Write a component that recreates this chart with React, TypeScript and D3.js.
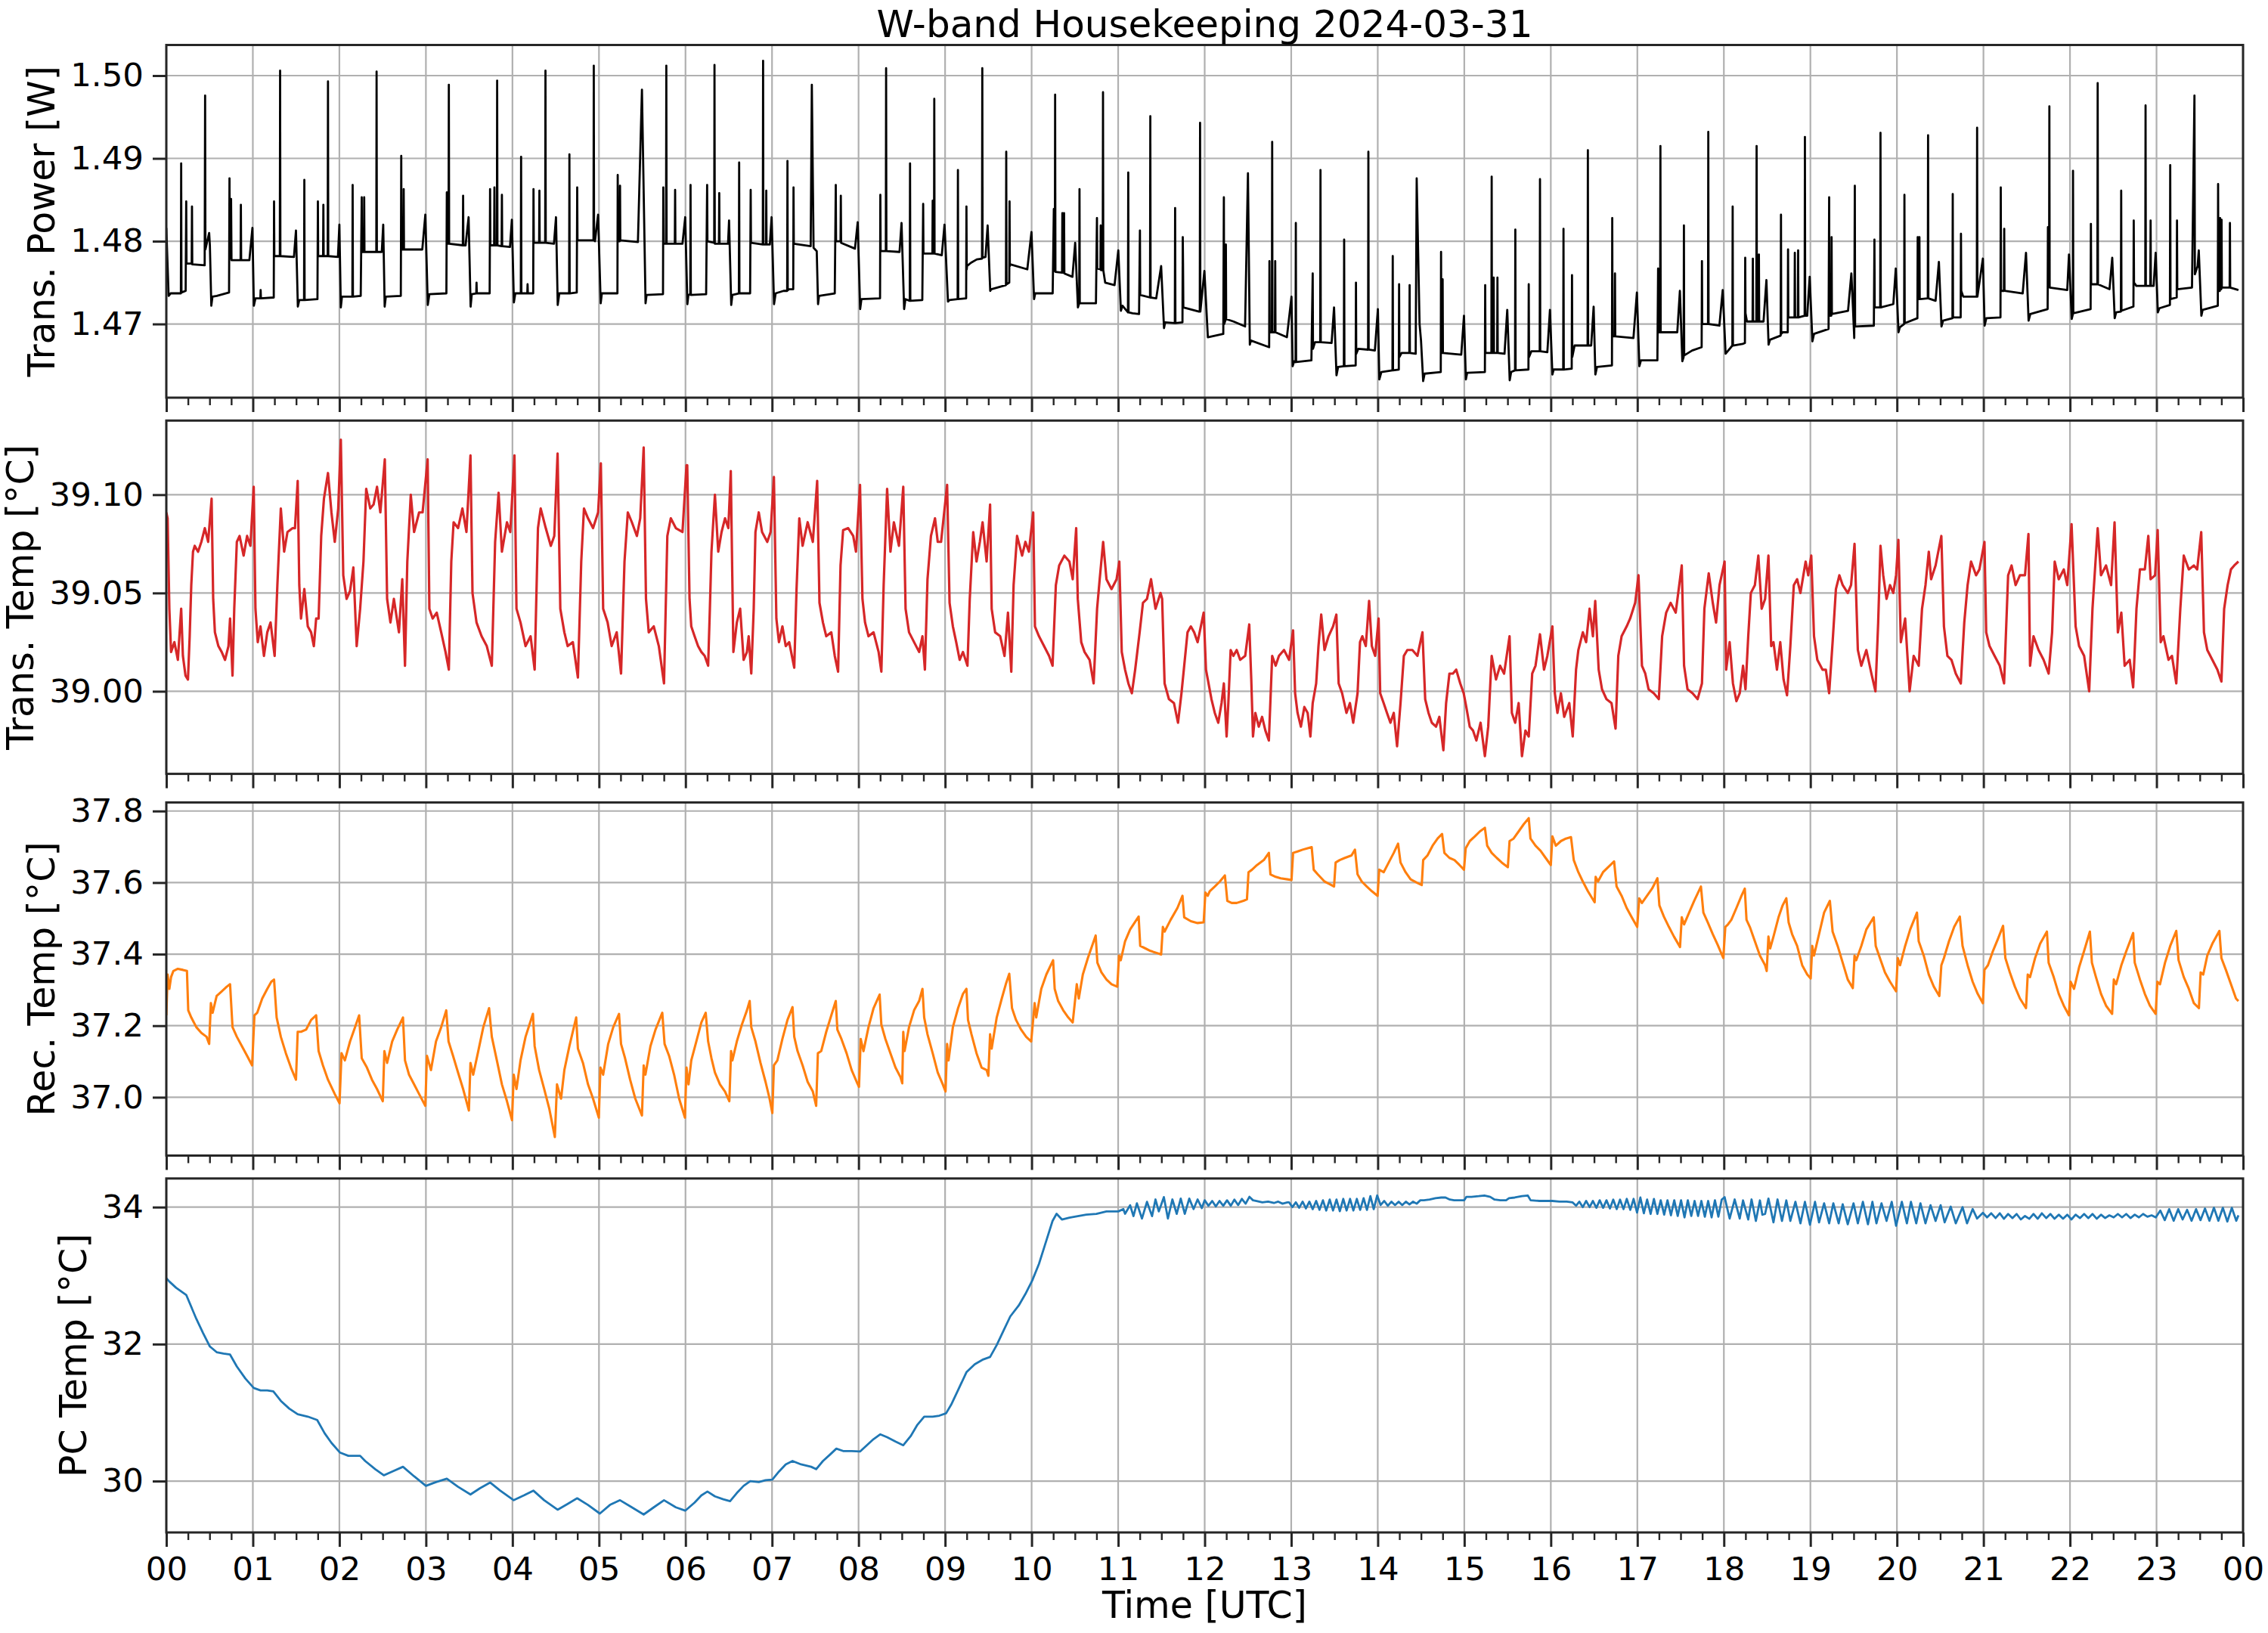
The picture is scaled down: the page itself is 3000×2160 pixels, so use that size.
import { useEffect, useRef } from "react";
import * as d3 from "d3";

type Pt = [number, number];

// x axis: minutes after 00:00 UTC
const hourLabels = [
  "00", "01", "02", "03", "04", "05", "06", "07", "08", "09", "10", "11",
  "12", "13", "14", "15", "16", "17", "18", "19", "20", "21", "22", "23", "00",
];

const powerTicks = [1.47, 1.48, 1.49, 1.5];
const transTempTicks = [39.0, 39.05, 39.1];
const recTempTicks = [37.0, 37.2, 37.4, 37.6, 37.8];
const pcTempTicks = [30, 32, 34];

// Trans. Power [W]
const transPower: Pt[] = [
  [0,1.4816],[1.6,1.4734],[3,1.4737],[10.1,1.4737],[10.3,1.4894],[10.5,1.4738],[13.4,1.474],[13.8,1.4848],[14,1.4773],[17.6,1.4773],[17.8,1.4842],[18,1.4772],[26.6,1.4771],[26.9,1.4976],[27.1,1.479],[29.7,1.481],[30.2,1.4795],[31.2,1.4722],[32,1.4733],
  [35,1.4734],[43.5,1.4738],[43.8,1.4876],[44.1,1.478],[44.7,1.4779],[44.9,1.4851],[45.2,1.4777],[51.5,1.4777],[51.7,1.4844],[51.9,1.4777],[57.6,1.4777],[59.7,1.4816],[60.7,1.4722],[61.8,1.4731],
  [65.2,1.4731],[65.4,1.4741],[65.6,1.4731],[74.5,1.4732],[74.7,1.4848],[74.9,1.4782],[78.7,1.4782],[78.9,1.5006],[79.1,1.4782],[88.5,1.4781],[89.9,1.4813],[91.2,1.4721],[92.2,1.4729],
  [95.5,1.4729],[95.7,1.4874],[95.9,1.4729],[104.8,1.473],[105.1,1.4848],[105.3,1.4782],[108.7,1.4782],[108.9,1.4844],[109.1,1.4782],[111.9,1.4782],[112.1,1.4993],[112.3,1.4782],[119,1.4781],[120,1.482],[121,1.472],[121.8,1.4733],
  [129,1.4733],[129.2,1.4868],[129.4,1.4733],[134.8,1.4734],[135.5,1.4853],[135.7,1.4787],[137,1.4787],[137.2,1.4853],[137.4,1.4787],[145.6,1.4787],[145.8,1.5005],[146,1.4787],[149.4,1.4787],[150.4,1.482],[151.4,1.4721],[152.2,1.4733],
  [162.6,1.4734],[162.9,1.4903],[163.1,1.479],[164.4,1.479],[164.6,1.4863],[164.8,1.479],[177.5,1.479],[179.6,1.4832],[181.3,1.4723],[182.4,1.4736],
  [194.2,1.4737],[194.5,1.4859],[194.7,1.4797],[195.7,1.4797],[195.9,1.4989],[196.1,1.4797],[205.6,1.4795],[205.8,1.4855],[206,1.4795],[207.5,1.4795],[209.6,1.4829],[211,1.4721],[211.8,1.4736],
  [214.9,1.4737],[215.1,1.475],[215.3,1.4737],[224.2,1.4737],[224.5,1.4863],[224.7,1.4795],[227.3,1.4795],[227.5,1.4865],[227.7,1.4795],[229.2,1.4795],[229.4,1.4994],[229.6,1.4795],[232.5,1.4794],[232.7,1.4856],[232.9,1.4794],[238.3,1.4793],[239.6,1.4826],[241,1.4726],[242,1.4737],
  [245.8,1.4737],[246,1.4902],[246.2,1.4737],[250.3,1.4737],[250.5,1.4748],[250.7,1.4737],[254.4,1.4737],[254.6,1.4863],[254.8,1.4798],[258.5,1.4798],[258.7,1.4861],[258.9,1.4798],[262.7,1.4798],[262.9,1.5006],[263.1,1.4798],[268.8,1.4797],[270.2,1.4829],[271.4,1.4723],[272.5,1.4737],
  [279.3,1.4737],[279.5,1.4905],[279.7,1.4737],[284.6,1.4738],[284.9,1.4865],[285.1,1.4801],[296.2,1.4801],[296.4,1.5012],[296.6,1.4801],[297.2,1.48],[299.4,1.4832],[301.2,1.4725],[302,1.4737],
  [312.8,1.4737],[313,1.488],[313.2,1.48],[314.4,1.48],[314.6,1.4867],[314.8,1.4801],[327,1.4799],[329.8,1.4983],[332.3,1.4725],[333,1.4735],
  [344.4,1.4736],[344.6,1.4865],[344.8,1.4797],[346.5,1.4797],[346.7,1.5012],[346.9,1.4797],[352.6,1.4797],[352.8,1.4862],[353,1.4797],[357.9,1.4797],
  [359.8,1.4829],[361.3,1.4724],[362,1.4735],[363.3,1.4736],[363.5,1.4868],[363.7,1.4735],[374.3,1.4736],[375,1.4868],[375.2,1.48],[379.9,1.4798],[380.1,1.5013],[380.3,1.4797],[383.2,1.4797],[383.4,1.4858],[383.6,1.4797],[389.5,1.4797],[390.2,1.4825],[391.7,1.4723],[392.5,1.4735],
  [397,1.4737],[397.2,1.4895],[397.4,1.4737],[404.8,1.4737],[405.2,1.4862],[405.4,1.4798],[413.6,1.4796],[413.8,1.5018],[414,1.4796],[415.8,1.4796],[416,1.4861],[416.2,1.4796],[418.5,1.4796],[419.7,1.4829],[421.4,1.4724],[422.5,1.4737],
  [428,1.474],[430.5,1.474],[430.7,1.4897],[430.9,1.4741],[432,1.4742],[434.7,1.4742],[434.9,1.4865],[435.1,1.4797],[446.8,1.4794],[447.6,1.4989],[448.8,1.4792],[451,1.4788],[451.9,1.4724],[452.6,1.4734],
  [463.5,1.4737],[464.2,1.4868],[464.4,1.48],[467.5,1.48],[467.7,1.4855],[467.9,1.4798],[477.5,1.4791],[479.4,1.4823],[481.1,1.4718],[482,1.473],
  [494.9,1.4731],[495.1,1.4856],[495.3,1.4788],[498.9,1.4788],[499.1,1.5009],[499.3,1.4788],[508.4,1.4787],[509.8,1.4822],[511.6,1.4718],[512.5,1.473],
  [515.5,1.4728],[515.7,1.4894],[515.9,1.4728],[524.2,1.4729],[524.8,1.4845],[525,1.4785],[531.2,1.4785],[531.4,1.4849],[531.6,1.4785],[532.3,1.4785],[532.5,1.4972],[532.7,1.4785],[537.7,1.4783],[539.6,1.482],[542,1.4727],[543,1.4729],
  [548.7,1.473],[548.9,1.4886],[549.1,1.473],[554.6,1.4731],[554.8,1.4842],[555,1.4766],[555.2,1.477],[558,1.4774],[562,1.4778],[565.6,1.4779],[565.8,1.5009],[566,1.478],[568,1.4781],[569.5,1.4819],[571.3,1.474],[572,1.4742],
  [582.2,1.4747],[582.4,1.4908],[582.6,1.4748],[584.5,1.475],[584.7,1.4848],[584.9,1.477],[585.2,1.4772],[597,1.4766],[599.9,1.4811],[601.7,1.473],[602.5,1.4737],
  [614.6,1.4737],[615.4,1.4839],[615.6,1.4764],[616.1,1.4764],[616.3,1.4977],[616.5,1.4763],[621.1,1.4762],[621.3,1.4834],[621.5,1.4762],[622.3,1.4762],[622.5,1.4834],[622.7,1.4761],[628.3,1.4757],[630.2,1.4798],[632.1,1.472],
  [633,1.4725],[633.2,1.4863],[633.4,1.4725],[644.6,1.4725],[645.3,1.4828],[645.5,1.4767],[647.7,1.4766],[647.9,1.4819],[648.1,1.4765],[649.3,1.4765],[649.5,1.498],[649.7,1.4765],[651,1.475],[657.5,1.4747],[660.1,1.4789],[661.9,1.4716],[663,1.4722],
  [666.8,1.4714],[667,1.4883],[667.2,1.4714],[670,1.4713],[674.5,1.4712],[675.1,1.4813],[675.3,1.4735],[682.1,1.4732],[682.3,1.4951],[682.5,1.4732],[686.4,1.4731],[689.8,1.477],[691.8,1.4695],[692.6,1.4702],
  [699.3,1.4701],[699.5,1.484],[699.7,1.4701],[704.6,1.4702],[704.8,1.4805],[705,1.4772],[705.2,1.472],[716,1.4715],[716.6,1.4715],[716.8,1.4943],[717,1.4715],[719.8,1.4764],
  [722.2,1.4684],[732.9,1.4688],[733.3,1.4853],[733.5,1.47],[734.5,1.4705],[734.7,1.4796],[734.9,1.4706],[740,1.4703],[748,1.4697],[750,1.4882],[751.3,1.4675],[752,1.468],
  [764.7,1.4672],[764.9,1.4776],[765.1,1.469],[766.6,1.469],[766.8,1.492],[767,1.469],[768.7,1.469],[768.9,1.4776],[769.1,1.469],[777,1.4684],[780.2,1.4733],[781,1.4649],[782,1.4655],
  [783,1.4654],[783.2,1.4822],[783.4,1.4654],[794,1.4656],[794.9,1.4761],[795.1,1.467],[796.5,1.4678],[800.1,1.4678],[800.3,1.4886],[800.5,1.4678],[808,1.4677],[809.7,1.472],[811.4,1.4638],[812.5,1.4648],
  [816.5,1.4649],[816.7,1.4802],[816.9,1.4649],[824.7,1.465],[824.9,1.475],[825.1,1.4664],[826.5,1.467],[833.3,1.4669],[833.5,1.4908],[833.7,1.4669],[838,1.4668],[840.1,1.4718],[841.1,1.4633],[842.5,1.4642],
  [850.2,1.4644],[850.4,1.4782],[850.6,1.4644],[854.6,1.4645],[854.8,1.4748],[855,1.466],[856.5,1.4665],[861.9,1.4665],[862.1,1.4747],[862.3,1.4665],[866.3,1.4664],[867,1.4876],[869,1.47],[870,1.468],[871.5,1.4631],[872.5,1.464],
  [883.7,1.4642],[883.9,1.4787],[884.1,1.4665],[884.8,1.4665],[885,1.4754],[885.2,1.4665],[897.9,1.4663],[899.8,1.471],[901.1,1.4633],[902,1.4641],
  [914.3,1.4642],[914.5,1.4747],[914.7,1.4665],[918.8,1.4665],[919,1.4878],[919.2,1.4665],[920.2,1.4665],[920.4,1.4756],[920.6,1.4665],[922.8,1.4665],[923,1.4756],[923.2,1.4665],[927.9,1.4664],[929.8,1.4717],[931.5,1.4632],[932.5,1.4642],
  [935.2,1.4644],[935.4,1.4814],[935.6,1.4644],[944.5,1.4645],[944.7,1.4748],[944.9,1.466],[946.5,1.4667],[952.3,1.4667],[952.5,1.4875],[952.7,1.4667],[957.6,1.4666],[959.4,1.4717],[961.1,1.4639],[962,1.4645],
  [968.6,1.4645],[968.8,1.4815],[969,1.4645],[974.5,1.4646],[974.7,1.4759],[974.9,1.466],[976.5,1.4674],[985.5,1.4674],[985.7,1.491],[985.9,1.4674],[988,1.4674],[989.7,1.4721],[990.9,1.4639],[992,1.4648],
  [1002.4,1.465],[1002.6,1.4828],[1002.8,1.4685],[1004.3,1.4685],[1004.5,1.4761],[1004.7,1.4685],[1017.3,1.4683],[1019.7,1.4738],[1021.4,1.4649],[1022.5,1.4656],
  [1033.9,1.4656],[1034.4,1.4767],[1034.6,1.469],[1035.8,1.469],[1036,1.4915],[1036.2,1.469],[1047.7,1.469],[1049.5,1.474],[1051.2,1.4655],[1052.1,1.466],[1052.3,1.4819],[1052.5,1.4662],
  [1058,1.4668],[1064.6,1.4672],[1064.8,1.4776],[1065,1.47],[1069,1.47],[1069.2,1.4932],[1069.4,1.47],[1076.9,1.4698],[1079.2,1.4741],
  [1081.2,1.4664],[1085.9,1.4674],[1086.1,1.4842],[1086.3,1.4674],[1093,1.4676],[1094.6,1.4677],[1094.8,1.478],[1095,1.4713],[1096,1.4703],[1099.9,1.4703],[1100.1,1.4779],[1100.3,1.4703],[1102.5,1.4703],[1102.7,1.4915],[1102.9,1.4703],[1104.1,1.4703],[1104.3,1.4784],[1104.5,1.4703],[1107.5,1.4703],[1109.5,1.4753],[1111,1.4675],[1112,1.4681],
  [1119.4,1.4686],[1119.6,1.4832],[1119.8,1.4688],[1120.8,1.469],[1124.3,1.469],[1124.5,1.479],[1124.7,1.4708],[1129,1.4708],[1129.2,1.4786],[1129.4,1.4708],[1131.3,1.4708],[1131.5,1.4789],[1131.7,1.4708],[1136,1.471],[1136.2,1.4926],[1136.4,1.471],[1137.8,1.471],[1139.5,1.4757],[1141.4,1.4679],[1142.5,1.4688],
  [1152.6,1.4694],[1153,1.4853],[1153.2,1.471],[1154.5,1.471],[1154.7,1.4805],[1154.9,1.4712],[1166.1,1.4716],[1168.4,1.4761],[1169.5,1.472],[1170.4,1.4683],[1170.8,1.4867],[1171,1.4697],
  [1184,1.4698],[1184.4,1.4802],[1184.6,1.472],[1188.4,1.472],[1188.6,1.4931],[1188.8,1.472],[1197.5,1.4724],[1199.2,1.4767],[1201.1,1.469],[1202,1.4696],
  [1205,1.47],[1205.2,1.4856],[1205.4,1.4701],[1214.2,1.4707],[1214.4,1.4805],[1214.6,1.473],[1215.4,1.473],[1215.6,1.4805],[1215.8,1.473],[1221.4,1.4731],[1221.6,1.4928],[1221.8,1.4731],[1226.8,1.4728],[1229.1,1.4775],[1230.9,1.4697],[1232,1.4704],
  [1238.5,1.4707],[1238.7,1.4857],[1238.9,1.4708],[1244.2,1.4708],[1244.4,1.4809],[1244.6,1.474],[1246,1.4733],[1255.4,1.4733],[1255.6,1.4937],[1255.8,1.4733],[1259.6,1.4779],[1260.8,1.4698],[1262,1.4707],
  [1271.8,1.4708],[1272,1.4865],[1272.2,1.474],[1274.2,1.474],[1274.4,1.4815],[1274.6,1.474],[1287.2,1.4737],[1289.5,1.4786],[1291.3,1.4704],[1292.5,1.4712],
  [1304.5,1.4718],[1304.7,1.4817],[1304.9,1.4745],[1305.5,1.4745],[1305.7,1.4963],[1305.9,1.4744],[1318.1,1.4741],[1319.3,1.4784],[1321.2,1.4706],[1322,1.4712],[1322.1,1.4885],[1322.3,1.4713],
  [1334.3,1.4718],[1334.5,1.4821],[1334.7,1.4748],[1339,1.4748],[1339.2,1.4991],[1339.4,1.4748],[1347.4,1.4742],[1349.3,1.478],[1351,1.4707],[1352,1.4714],
  [1355.3,1.4715],[1355.5,1.4861],[1355.7,1.4716],[1364,1.4721],[1364.2,1.4825],[1364.4,1.475],[1366,1.4746],[1372.2,1.4746],[1372.4,1.4964],[1372.6,1.4746],[1375.7,1.4746],[1375.9,1.4825],[1376.1,1.4746],[1378,1.4746],[1379.4,1.4786],[1380.9,1.4714],[1382,1.4719],
  [1389.3,1.4723],[1389.5,1.4892],[1389.7,1.473],[1394,1.4732],[1394.2,1.4825],[1394.4,1.4742],[1404.6,1.4744],[1406.3,1.4976],[1406.6,1.476],[1408.5,1.477],[1409.3,1.4789],[1411.1,1.471],[1412,1.4717],
  [1422.5,1.4722],[1422.7,1.4869],[1422.9,1.474],[1423.9,1.474],[1424.1,1.4828],[1424.3,1.4742],[1424.9,1.4742],[1425.1,1.4826],[1425.3,1.4744],[1430.7,1.4744],[1430.9,1.4822],[1431.1,1.4744],[1436.8,1.4741],
];

// Trans. Temp [°C]
const transTemp: Pt[] = [
  [0,39.091],[0.9,39.088],[2.1,39.042],[3.3,39.02],[5.6,39.025],[8,39.016],[10.3,39.042],[11.5,39.018],[13.3,39.008],[15,39.006],[16.2,39.028],[17.3,39.054],[18.5,39.071],[19.7,39.074],[22,39.071],[24.3,39.076],[26.7,39.083],[29,39.076],[31.4,39.098],
  [32.5,39.047],[33.7,39.03],[36.1,39.023],[38.4,39.02],[40.7,39.016],[43.1,39.023],[44.2,39.037],[45.9,39.008],[47.1,39.042],[48.9,39.076],[50.8,39.079],[53.6,39.069],[56,39.079],[58.3,39.074],[60.6,39.104],
  [61.8,39.042],[63.4,39.025],[65.3,39.033],[67.7,39.018],[70,39.03],[72.3,39.035],[75.1,39.018],[77,39.054],[79.4,39.093],[81.7,39.071],[84,39.081],[87.6,39.083],[89.2,39.083],[91.1,39.107],
  [92.2,39.054],[93.4,39.037],[95.7,39.052],[98.1,39.033],[100.4,39.03],[102.3,39.023],[103.9,39.037],[105.6,39.037],[107.4,39.079],[109.3,39.098],[112.1,39.111],[114.5,39.091],[116.8,39.076],[119.2,39.093],[121,39.128],
  [122.7,39.059],[125,39.047],[127.4,39.051],[129.7,39.063],[132,39.023],[134.4,39.042],[136.7,39.066],[138.6,39.103],[141.4,39.093],[143.7,39.095],[146.1,39.104],[148.4,39.091],[151.5,39.118],
  [153.1,39.047],[155.4,39.035],[157.8,39.047],[161.3,39.03],[163.6,39.057],[165.5,39.013],[167.1,39.066],[169.5,39.1],[171.8,39.081],[175.3,39.091],[177.7,39.091],[181.2,39.118],
  [182.4,39.042],[184.7,39.037],[187.5,39.04],[190.6,39.03],[193.6,39.02],[195.9,39.011],[197.6,39.066],[199.2,39.086],[202.3,39.083],[205.3,39.093],[208.1,39.081],[210.9,39.12],
  [212.3,39.05],[215.1,39.035],[218.6,39.028],[222.2,39.023],[225.7,39.013],[228,39.076],[230.4,39.101],[232.7,39.071],[236.2,39.086],[238.5,39.081],[241.4,39.12],
  [242.8,39.042],[245.6,39.035],[249.1,39.023],[252.6,39.028],[255.4,39.011],[257.7,39.083],[259.6,39.093],[263.1,39.083],[266.6,39.074],[269,39.079],[271.3,39.121],
  [273.2,39.042],[276,39.03],[278.3,39.023],[281.9,39.025],[285.4,39.007],[287.7,39.066],[289.6,39.093],[292.4,39.088],[295.9,39.083],[299.4,39.091],[301.3,39.116],
  [302.9,39.042],[306,39.035],[308.8,39.023],[312.3,39.03],[315.3,39.009],[317.7,39.066],[320,39.091],[322.8,39.086],[326.3,39.079],[328.6,39.088],[331,39.124],
  [332.6,39.047],[334.5,39.03],[338,39.033],[341.5,39.023],[345.1,39.004],[347.4,39.079],[349.8,39.088],[353.3,39.083],[357.9,39.081],[360.7,39.115],
  [361.2,39.115],[362.8,39.047],[364,39.033],[366.3,39.028],[368.7,39.023],[371,39.02],[373.3,39.018],[375.7,39.013],[376.9,39.042],[378,39.071],[380.4,39.1],[382.7,39.071],[385,39.081],[387.4,39.088],[389.7,39.083],[391.4,39.112],
  [393.2,39.02],[395.6,39.035],[397.9,39.042],[400.3,39.016],[402.6,39.02],[403.8,39.028],[405.6,39.009],[407.3,39.042],[408.5,39.081],[410.8,39.091],[413.1,39.081],[416.7,39.076],[419,39.081],[421.3,39.109],
  [423,39.037],[424.8,39.025],[427.2,39.033],[429.5,39.023],[431.9,39.025],[435.4,39.012],[437,39.052],[438.9,39.088],[441.2,39.074],[444.7,39.086],[448.3,39.076],[451.3,39.107],
  [452.9,39.045],[455.3,39.035],[457.6,39.028],[461.1,39.03],[463.5,39.018],[465.8,39.01],[467.5,39.064],[469.3,39.082],[472.8,39.083],[476.3,39.079],[478.2,39.071],[481,39.105],
  [482.7,39.047],[484.5,39.035],[486.9,39.028],[490.4,39.03],[493.9,39.02],[495.8,39.01],[497.4,39.054],[499.8,39.103],[502.1,39.071],[504.5,39.086],[508,39.074],[511,39.104],
  [512.6,39.042],[515,39.03],[518.5,39.025],[522,39.02],[524.3,39.028],[526,39.011],[527.8,39.057],[530.2,39.079],[533,39.088],[534.9,39.076],[537.2,39.076],[541.4,39.105],
  [543.1,39.045],[545.4,39.033],[547.7,39.025],[550.1,39.016],[552.4,39.02],[555.5,39.013],[557.1,39.047],[559.5,39.081],[561.8,39.066],[564.1,39.076],[566,39.086],[568.8,39.066],[571.2,39.095],
  [572.3,39.042],[574.7,39.03],[578.2,39.028],[581.2,39.018],[583.6,39.04],[585.9,39.01],[587.5,39.054],[589.9,39.079],[593.4,39.069],[595.7,39.076],[598.1,39.071],[601.1,39.091],
  [602.3,39.033],[605.1,39.028],[608.6,39.023],[612.1,39.018],[614.5,39.013],[616.8,39.054],[619.1,39.064],[622.7,39.069],[626.2,39.066],[628.5,39.057],[630.9,39.083],
  [632,39.047],[634.4,39.025],[636.7,39.02],[640.2,39.016],[643,39.004],[645.4,39.042],[647.2,39.057],[649.6,39.076],[651.9,39.057],[655.4,39.052],[658.9,39.057],[660.8,39.066],
  [662.5,39.02],[664.8,39.011],[667.1,39.004],[669.5,38.999],[671.8,39.011],[674.9,39.03],[677.2,39.045],[680,39.047],[682.8,39.057],[685.9,39.042],[689.4,39.05],[690.5,39.047],
  [692.2,39.004],[695.2,38.996],[698.7,38.994],[701.5,38.984],[703.9,38.999],[705.8,39.013],[708.1,39.03],[710.4,39.033],[712.7,39.03],[715.1,39.025],[719.3,39.04],[720.9,39.011],
  [724.7,38.996],[727,38.989],[729.4,38.984],[731.7,38.994],[733.3,39.004],[735.2,38.977],[736.4,38.994],[738,39.021],[739.9,39.018],[742.2,39.021],[744.6,39.016],[748.1,39.018],[750.9,39.034],
  [752.3,39.006],[753.5,38.977],[755.1,38.989],[757.5,38.982],[759.8,38.987],[762.1,38.98],[764.5,38.975],[766.8,39.018],[769.2,39.013],[771.5,39.018],[775,39.021],[778.5,39.016],[781.3,39.031],
  [782.7,38.999],[784.4,38.989],[786.7,38.982],[789.1,38.992],[791.4,38.989],[793.3,38.977],[794.9,38.994],[797.3,39.004],[798.9,39.023],[800.8,39.039],[803.1,39.021],[805.9,39.028],[809,39.033],[811.3,39.039],
  [812.9,39.004],[815.3,38.999],[818.3,38.989],[820.7,38.994],[823,38.984],[826,38.999],[827.7,39.025],[829.3,39.028],[831.7,39.023],[834,39.046],[835.9,39.023],[838.2,39.018],[840.6,39.037],
  [841.7,38.999],[844.1,38.994],[846.4,38.989],[848.8,38.984],[851.1,38.989],[853.4,38.972],[855.8,38.994],[858.1,39.018],[860.5,39.021],[864,39.021],[867.5,39.018],[871,39.03],
  [872.9,38.996],[875.2,38.989],[877.5,38.984],[880.4,38.982],[882.7,38.987],[885.5,38.97],[887.4,38.994],[889.7,39.009],[892.1,39.009],[894.4,39.011],[897.2,39.004],[899.6,38.999],
  [901.4,38.992],[903.8,38.982],[906.1,38.98],[908.4,38.975],[911.3,38.984],[914.3,38.967],[916.6,38.982],[919,39.018],[922,39.006],[924.8,39.013],[927.6,39.009],[931.4,39.028],
  [933,38.989],[935.3,38.984],[937.7,38.994],[940,38.967],[942.4,38.98],[944.7,38.977],[947.1,39.009],[949.4,39.013],[952.5,39.029],[955.3,39.011],[957.6,39.018],[961.1,39.033],
  [962.8,38.999],[964.6,38.989],[967,38.999],[969.3,38.987],[972.8,38.994],[975.2,38.977],[977.5,39.011],[979.1,39.021],[982.2,39.03],[984.5,39.025],[986.9,39.042],[989.2,39.028],[990.8,39.046],
  [993.2,39.011],[995.5,39.001],[998.6,38.996],[1002.1,38.994],[1004.9,38.981],[1006.8,39.018],[1009.1,39.028],[1012.6,39.033],[1015,39.037],[1018.5,39.045],[1020.8,39.059],
  [1023.2,39.013],[1025.5,39.009],[1027.8,39.001],[1031.4,38.999],[1034.9,38.996],[1037.2,39.028],[1040,39.04],[1043.1,39.045],[1046.6,39.04],[1050.8,39.064],
  [1052.4,39.013],[1054.8,39.001],[1058.3,38.999],[1061.8,38.996],[1064.8,39.004],[1066.5,39.042],[1069.5,39.06],[1072.3,39.045],[1074.6,39.035],[1077,39.054],[1080.5,39.066],
  [1081.6,39.011],[1084,39.025],[1086.3,39.004],[1088.7,38.995],[1091,38.999],[1093.3,39.013],[1095,39.001],[1096.9,39.028],[1098.7,39.05],[1101.5,39.054],[1103.9,39.069],[1106.2,39.042],[1108.6,39.047],[1110.9,39.069],
  [1112.8,39.023],[1114.4,39.025],[1116.8,39.011],[1119.1,39.025],[1121.4,39.006],[1123.8,38.998],[1126.1,39.023],[1128.5,39.054],[1130.8,39.057],[1133.1,39.05],[1136.7,39.066],[1138.5,39.059],[1140.6,39.069],
  [1142.5,39.028],[1144.8,39.016],[1148.4,39.011],[1150.7,39.011],[1153,38.999],[1155.4,39.025],[1157.7,39.052],[1160.1,39.059],[1162.4,39.054],[1165.9,39.05],[1168.2,39.054],[1170.6,39.075],
  [1172.9,39.021],[1175.3,39.013],[1178.8,39.021],[1182.3,39.009],[1185.1,39],[1187,39.035],[1188.6,39.074],[1190.5,39.059],[1192.8,39.047],[1195.2,39.054],[1197.5,39.05],[1199.4,39.059],[1201,39.077],
  [1202.7,39.025],[1205.7,39.037],[1208.8,39],[1211.6,39.018],[1215.1,39.013],[1217.4,39.042],[1219.8,39.054],[1222.1,39.071],[1223.7,39.057],[1226.8,39.064],[1230.8,39.079],
  [1232.6,39.033],[1235,39.018],[1237.8,39.016],[1240.8,39.009],[1244.3,39.004],[1246.7,39.035],[1249,39.054],[1251.4,39.066],[1254.9,39.059],[1257.2,39.062],[1260.7,39.076],
  [1261.9,39.03],[1264.2,39.023],[1267.7,39.018],[1271.3,39.013],[1274.3,39.004],[1277.1,39.059],[1279.5,39.064],[1282.3,39.054],[1285.3,39.059],[1288.8,39.059],[1291.2,39.08],
  [1292.3,39.013],[1294.7,39.028],[1298.2,39.021],[1301.7,39.016],[1305.2,39.009],[1307.6,39.03],[1309.4,39.066],[1312.2,39.057],[1315.7,39.062],[1318.1,39.054],[1321.1,39.085],
  [1323.9,39.033],[1326.3,39.023],[1329.8,39.018],[1333.3,39],[1335.6,39.042],[1339.2,39.083],[1341.5,39.059],[1345,39.064],[1348.5,39.054],[1350.9,39.086],
  [1353.2,39.03],[1355.6,39.04],[1357.9,39.013],[1361.4,39.016],[1363.8,39.002],[1366.1,39.042],[1368.5,39.062],[1371.9,39.062],[1374.3,39.079],[1375.9,39.057],[1379,39.059],[1380.8,39.082],
  [1382.9,39.025],[1384.8,39.028],[1388.3,39.016],[1390.7,39.018],[1393.7,39.004],[1396.5,39.042],[1398.9,39.069],[1402.4,39.062],[1405.9,39.064],[1408.2,39.062],[1411,39.081],
  [1412.9,39.03],[1415.2,39.021],[1418.7,39.016],[1422.2,39.011],[1425,39.005],[1426.9,39.042],[1429.3,39.054],[1431.6,39.062],[1433.9,39.064],[1436.8,39.066],
];

// Rec. Temp [°C]
const recTemp: Pt[] = [
  [0,37.229],[0.9,37.343],[2.1,37.303],[3.3,37.336],[4.9,37.353],[8,37.359],[11.5,37.356],[14.3,37.353],[15.2,37.243],[17.3,37.223],[20.8,37.196],[24.3,37.18],[27.9,37.169],[29.7,37.149],
  [30.9,37.263],[32.1,37.236],[34.9,37.283],[38.4,37.296],[41.9,37.309],[44.2,37.316],[45.9,37.196],[48.9,37.169],[52.4,37.143],[56,37.116],[59.5,37.089],
  [61.1,37.229],[63,37.236],[66.5,37.276],[70,37.303],[72.8,37.323],[74.7,37.329],[76.5,37.223],[79.4,37.169],[82.9,37.123],[86.4,37.083],[89.9,37.049],
  [91.1,37.183],[93.4,37.183],[96.9,37.189],[100.4,37.216],[103.9,37.229],[105.6,37.129],[108.6,37.089],[112.1,37.049],[116.8,37.009],[120.1,36.983],
  [121.5,37.123],[123.8,37.103],[127.4,37.156],[130.9,37.196],[133.7,37.229],[135.5,37.109],[139.1,37.083],[142.6,37.049],[146.1,37.023],[150.1,36.989],
  [151.2,37.129],[153.1,37.096],[156.6,37.156],[160.1,37.189],[164.1,37.223],[165.5,37.103],[168.3,37.063],[171.8,37.036],[175.3,37.009],[179.6,36.976],
  [180.7,37.116],[183.5,37.076],[187,37.156],[190.6,37.196],[194.1,37.243],[195.7,37.156],[198.8,37.116],[202.3,37.069],[205.8,37.023],[209.8,36.963],
  [210.9,37.096],[212.8,37.063],[216.3,37.129],[219.8,37.196],[223.8,37.249],[225.7,37.169],[229.2,37.103],[232.7,37.036],[236.2,36.989],[239.7,36.936],
  [240.9,37.063],[242.8,37.023],[245.6,37.103],[249.1,37.169],[254.2,37.233],[255.4,37.143],[258.5,37.076],[262,37.023],[265.5,36.969],[269.4,36.889],
  [270.9,37.036],[273.7,36.996],[276,37.076],[279.5,37.143],[284.2,37.223],[285.4,37.136],[288.9,37.096],[292.4,37.036],[295.9,36.996],[299.9,36.943],
  [301,37.083],[302.9,37.063],[306.4,37.149],[309.9,37.196],[313.9,37.233],[315.3,37.149],[318.1,37.109],[321.6,37.049],[325.2,36.996],[329.8,36.949],
  [331,37.089],[332.2,37.063],[335.7,37.143],[339.2,37.189],[343.9,37.236],[345.5,37.149],[348.6,37.116],[352.1,37.063],[355.6,36.996],[359.6,36.943],
  [360.7,37.083],[362.1,37.036],[364,37.103],[367.5,37.156],[371,37.209],[374,37.236],[375.7,37.156],[378,37.109],[380.4,37.069],[383.9,37.036],[387.4,37.016],[390.4,36.989],
  [391.6,37.129],[392.5,37.103],[395.6,37.156],[399.1,37.203],[402.6,37.243],[404.5,37.269],[405.6,37.196],[408.5,37.156],[412,37.096],[415.5,37.043],[418.3,36.996],[420.2,36.956],
  [421.3,37.089],[423.7,37.103],[427.2,37.163],[430.7,37.216],[434.2,37.252],[435.4,37.169],[437.7,37.129],[441.2,37.089],[444.7,37.043],[448.3,37.016],[450.6,36.976],
  [451.8,37.123],[454.1,37.129],[457.6,37.183],[461.1,37.229],[464.2,37.269],[465.3,37.189],[468.1,37.163],[471.7,37.123],[475.2,37.076],[478.7,37.043],[480.3,37.029],
  [481.5,37.163],[483.4,37.129],[486.9,37.196],[490.4,37.249],[494.6,37.287],[495.8,37.203],[498.6,37.163],[502.1,37.123],[505.6,37.083],[509.1,37.056],[510.3,37.039],
  [511,37.183],[511.9,37.129],[515,37.196],[518.5,37.243],[522,37.269],[524.3,37.303],[525.5,37.223],[527.8,37.176],[531.4,37.123],[534.9,37.069],[538.4,37.036],[540.3,37.016],
  [541.4,37.149],[542.4,37.103],[545.4,37.196],[549,37.249],[552.4,37.289],[554.8,37.303],[555.9,37.216],[558.3,37.176],[561.8,37.123],[565.3,37.083],[568.8,37.076],[570,37.06],
  [571.2,37.176],[572.3,37.136],[575.8,37.223],[579.3,37.276],[582.1,37.316],[584.5,37.345],[586.4,37.249],[589.2,37.216],[592.7,37.189],[596.2,37.169],[599.7,37.156],
  [602.1,37.263],[603.2,37.223],[606.7,37.303],[610.2,37.343],[614.9,37.383],[616,37.303],[618.4,37.269],[621.9,37.243],[625.4,37.223],[628.5,37.209],
  [631.3,37.316],[632.7,37.276],[635.5,37.343],[639,37.389],[644.4,37.452],[645.6,37.376],[648.4,37.349],[651.9,37.329],[655.4,37.316],[659.4,37.309],
  [660.6,37.396],[661.8,37.383],[664.8,37.436],[668.3,37.469],[674.2,37.505],[675.3,37.423],[678.9,37.416],[682.4,37.409],[687,37.403],[689.8,37.399],
  [691,37.476],[692.2,37.463],[696.4,37.496],[701.1,37.529],[704.6,37.563],[705.8,37.503],[710.4,37.492],[715.1,37.487],[719.3,37.489],
  [720.5,37.572],[722.1,37.563],[723.5,37.576],[727,37.589],[730.5,37.603],[734,37.62],[735.7,37.549],[738.7,37.543],[742.2,37.543],[746.9,37.549],[749.3,37.553],
  [750.4,37.629],[752.8,37.636],[756.3,37.649],[761,37.663],[764.5,37.683],[765.6,37.623],[769.2,37.616],[772.7,37.612],[777.4,37.609],[780.2,37.607],
  [781.3,37.683],[784.4,37.687],[787.9,37.692],[791.4,37.696],[794.2,37.699],[795.6,37.636],[798.4,37.623],[803.1,37.603],[806.6,37.596],[809.7,37.589],
  [810.8,37.656],[813.6,37.663],[817.2,37.669],[821.8,37.676],[824.2,37.692],[826,37.623],[828.9,37.603],[832.4,37.589],[835.9,37.576],[839.9,37.563],
  [841,37.636],[844.1,37.629],[847.6,37.656],[851.1,37.683],[854.1,37.709],[855.8,37.656],[859.3,37.629],[862.8,37.609],[867.5,37.599],[870.5,37.593],
  [871.5,37.663],[874.5,37.676],[878,37.703],[881.5,37.723],[884.6,37.736],[886.2,37.683],[889.7,37.669],[893.2,37.663],[896.7,37.649],[899.8,37.636],
  [901,37.696],[903.8,37.716],[907.3,37.729],[910.8,37.743],[914.3,37.753],[915.9,37.703],[919,37.683],[922.5,37.669],[926,37.656],[930.2,37.643],
  [931.4,37.716],[934.2,37.723],[937.7,37.743],[941.2,37.763],[944.7,37.78],[945.9,37.723],[949.4,37.703],[952.9,37.689],[956.4,37.669],[960,37.649],
  [961.1,37.729],[963.5,37.703],[967,37.716],[970.5,37.723],[974,37.727],[975.9,37.663],[979.1,37.629],[982.2,37.603],[985.7,37.576],[990.4,37.545],
  [991.1,37.616],[992.7,37.603],[996.2,37.629],[999.7,37.643],[1003.9,37.659],[1005.6,37.589],[1009.1,37.563],[1012.6,37.529],[1016.1,37.503],[1019.9,37.476],
  [1021.3,37.556],[1023.2,37.543],[1026.7,37.563],[1030.2,37.583],[1033.9,37.612],[1035.3,37.536],[1038.4,37.505],[1041.9,37.476],[1045.4,37.449],[1049.6,37.42],
  [1050.8,37.503],[1052.4,37.483],[1055.9,37.516],[1059.4,37.549],[1064.1,37.589],[1065.8,37.516],[1068.8,37.489],[1072.3,37.456],[1075.8,37.425],[1079.6,37.389],
  [1081,37.476],[1082.8,37.483],[1085.2,37.496],[1088.7,37.529],[1092.2,37.563],[1094.5,37.583],[1095.7,37.496],[1098,37.476],[1101.5,37.436],[1105,37.396],[1108.6,37.369],[1109.7,37.353],
  [1110.9,37.449],[1112.1,37.416],[1114.4,37.449],[1117.9,37.503],[1120.7,37.536],[1123.3,37.556],[1124.9,37.489],[1127.3,37.456],[1130.8,37.423],[1134.3,37.369],[1137.8,37.343],[1140.2,37.332],
  [1141.3,37.423],[1142.5,37.396],[1146,37.456],[1149.5,37.516],[1153.5,37.549],[1155.4,37.463],[1158.9,37.423],[1162.4,37.376],[1165.9,37.329],[1169.4,37.305],
  [1170.6,37.396],[1171.8,37.383],[1175.3,37.423],[1178.8,37.469],[1183.9,37.503],[1185.3,37.423],[1188.2,37.389],[1191.7,37.349],[1195.2,37.323],[1199.4,37.296],
  [1200.6,37.389],[1202.2,37.369],[1205.7,37.423],[1209.2,37.469],[1213.9,37.516],[1215.1,37.436],[1218.6,37.396],[1222.1,37.343],[1225.6,37.309],[1229.4,37.283],
  [1230.8,37.369],[1232.6,37.389],[1236.1,37.436],[1239.7,37.476],[1243.6,37.505],[1245.5,37.423],[1249,37.369],[1252.5,37.323],[1256,37.289],[1259.6,37.263],
  [1260.7,37.356],[1263.1,37.369],[1266.6,37.409],[1270.1,37.443],[1273.6,37.479],[1275.2,37.389],[1278.3,37.349],[1281.8,37.309],[1285.3,37.276],[1289.5,37.249],
  [1290.7,37.343],[1292.3,37.336],[1295.8,37.389],[1299.3,37.429],[1304,37.463],[1305.2,37.376],[1308.7,37.336],[1312.2,37.289],[1315.7,37.256],[1319.3,37.229],
  [1320.4,37.323],[1322.8,37.303],[1326.3,37.363],[1329.8,37.409],[1333.8,37.463],[1335.2,37.376],[1338,37.336],[1341.5,37.289],[1345,37.256],[1349.2,37.233],
  [1350.4,37.329],[1352,37.316],[1355.6,37.369],[1359.1,37.409],[1363.8,37.459],[1364.9,37.376],[1368.5,37.329],[1371.9,37.289],[1375.4,37.256],[1379.4,37.233],
  [1380.6,37.323],[1382.4,37.316],[1385.9,37.376],[1389.5,37.423],[1393.7,37.465],[1395.3,37.383],[1398.9,37.336],[1402.4,37.303],[1405.9,37.263],[1409.4,37.249],
  [1410.6,37.349],[1412.4,37.343],[1415.2,37.396],[1418.7,37.429],[1423.6,37.465],[1425,37.389],[1428.1,37.356],[1431.6,37.316],[1435.1,37.276],[1436.8,37.269],
];

// PC Temp [°C]
const pcTemp: Pt[] = [
  [0,32.962],[2.1,32.913],[6.8,32.822],[13.8,32.718],[20.8,32.369],[25.5,32.16],[30.2,31.965],[34.9,31.882],[39.6,31.861],[44.2,31.847],[48.9,31.673],[54.8,31.498],[60.6,31.359],[65.3,31.324],[70,31.324],[74.2,31.31],
  [79.4,31.171],[85.2,31.059],[91.1,30.976],[98.1,30.941],[104.6,30.892],[109.8,30.697],[114.5,30.558],[120.3,30.418],[126.2,30.369],[134.4,30.369],[137.9,30.293],[144.9,30.174],[150.8,30.084],[156.6,30.139],[164.1,30.209],
  [171.8,30.07],[180,29.93],[187,29.986],[194.5,30.035],[202.3,29.916],[210.9,29.805],[217.5,29.896],[224.5,29.979],[231.5,29.861],[240.9,29.721],[247.9,29.791],[254.5,29.861],[262,29.721],[271.3,29.582],[278.3,29.666],
  [284.9,29.749],[292.4,29.652],[300.6,29.526],[307.6,29.652],[314.6,29.721],[322.8,29.617],[331,29.512],[338,29.617],[345.1,29.721],[353.3,29.617],[359.8,29.568],
  [366.3,29.686],[371,29.791],[375.2,29.847],[380.4,29.777],[386.2,29.735],[390.9,29.707],[395.6,29.826],[400.3,29.93],[404.9,30],[410.8,29.986],[415.5,30.014],[420.2,30.021],[424.8,30.139],[429.5,30.244],[434.2,30.293],
  [440.1,30.244],[447.1,30.209],[450.6,30.174],[455.3,30.293],[460,30.383],[464.6,30.474],[469.3,30.439],[475.2,30.439],[481,30.432],[485.7,30.523],[490.4,30.613],[495.1,30.683],[499.8,30.641],[505.6,30.578],[511,30.523],
  [516.1,30.655],[520.8,30.822],[525.5,30.941],[531.4,30.941],[536,30.955],[540.7,30.99],[544.2,31.115],[548.9,31.324],[554.8,31.589],[560.6,31.707],[566.5,31.777],[571.2,31.812],[575.8,31.986],[580.5,32.195],[585.2,32.404],
  [591.1,32.565],[595.7,32.732],[600.4,32.927],[605.1,33.171],[609.8,33.484],[614.5,33.798],[617.3,33.902],[621,33.819],[626.2,33.847],[632,33.868],[637.9,33.889],[644.9,33.902],[651.9,33.937],[660.1,33.937],
  [663.6,33.972],[664.8,33.902],[668.3,34.028],[670.6,33.868],[673,34.056],[676.5,33.833],[680,34.077],[683.5,33.868],[685.9,34.112],[688.2,33.937],[691.7,34.146],[694.5,33.833],[697.6,34.112],[700.6,33.902],
  [703.4,34.125],[706.2,33.902],[709.3,34.125],[712.3,33.972],[715.1,34.112],[718,33.986],
  [720,34.1],[722.6,34.02],[725.2,34.09],[727.7,34.01],[730.3,34.09],[732.9,34.02],[735.5,34.1],[738.1,34.02],[740.6,34.11],[743.2,34.03],[745.8,34.12],[748.4,34.05],[751,34.15],[753.5,34.1],[756,34.09],[760,34.07],[764,34.08],[768,34.06],[771,34.08],[774,34.05],[777.4,34.07],
  [778.5,34.07],[780.8,34],[783.2,34.07],[785.5,33.99],[787.9,34.08],[790.2,33.98],[792.6,34.08],[794.9,33.97],[797.3,34.09],[799.6,33.96],[802,34.1],[804.3,33.95],[806.7,34.11],[809,33.95],[811.4,34.11],[813.7,33.94],
  [816.1,34.12],[818.4,33.95],[820.8,34.12],[823.1,33.95],[825.5,34.12],[827.8,33.96],[830.2,34.13],[832.5,33.96],[834.9,34.16],[837.2,33.97],[839.6,34.17],
  [842,34.03],[844.5,34.09],[847,34.02],[849.5,34.08],[852,34.03],[854.5,34.08],[857,34.03],[859.5,34.08],[862,34.04],[864.5,34.08],[867,34.05],[869.5,34.1],
  [872,34.1],[876,34.11],[880,34.13],[884,34.14],[887,34.14],[890,34.11],[893,34.1],[897,34.1],[900,34.1],[901.5,34.15],[905,34.15],[910,34.16],[914,34.17],[918,34.15],[921,34.11],[925,34.1],[929,34.1],[931,34.13],[935,34.14],[940,34.16],[944,34.17],[946,34.1],[952,34.09],[958,34.09],[961,34.09],[966,34.08],[971,34.08],[975,34.07],
  [977.5,34.02],[979.8,34.08],[982.2,34],[984.5,34.09],[986.9,34],[989.2,34.09],[991.6,33.99],[993.9,34.1],[996.3,33.99],[998.6,34.1],[1001,33.98],[1003.3,34.11],[1005.7,33.97],[1008,34.11],[1010.4,33.97],[1012.7,34.12],[1015.1,33.96],[1017.4,34.12],
  [1019.8,33.92],[1022.1,34.14],[1024.5,33.91],[1026.8,34.11],[1029.2,33.9],[1031.5,34.12],[1033.9,33.9],[1036.2,34.1],[1038.6,33.89],[1040.9,34.1],[1043.3,33.88],[1045.6,34.1],[1048,33.87],[1050.3,34.1],[1052.7,33.85],[1055,34.1],
  [1057.4,33.87],[1059.7,34.09],[1062.1,33.87],[1064.4,34.09],[1066.8,33.86],[1069.1,34.09],[1071.5,33.85],[1073.8,34.1],[1076.2,33.86],[1078.5,34.11],
  [1080.5,34.146],[1084,33.833],[1087.5,34.112],[1091,33.833],[1093.3,34.098],[1096.9,33.819],[1099.2,34.112],[1102.2,33.798],[1105,34.098],[1106.7,33.889],[1108.6,33.902],[1110.9,34.125],[1114.4,33.777],[1117.2,34.112],
  [1120.3,33.798],[1123.3,34.098],[1126.1,33.798],[1129.6,34.077],[1133.1,33.763],[1136.2,34.077],[1139.7,33.742],[1143.2,34.077],[1146,33.777],[1149.5,34.056],[1153,33.763],[1155.9,34.056],[1159.6,33.763],[1162.4,34.042],
  [1165.9,33.749],[1169.9,34.056],[1172.9,33.763],[1176.4,34.077],[1179.9,33.749],[1183,34.077],[1185.8,33.763],[1189.3,34.056],[1192.8,33.798],[1196.4,34.077],[1199.4,33.728],[1203.4,34.077],[1206.9,33.763],[1209.7,34.077],
  [1213.4,33.763],[1216.3,34.056],[1219.8,33.763],[1223.3,34.028],[1226.8,33.798],[1230.3,34.028],[1233.1,33.777],[1237.3,34.007],[1240.8,33.763],[1245.5,34],[1248.6,33.763],[1252.5,33.972],[1255.6,33.833],[1259.6,33.916],
  [1262.5,33.85],[1265.4,33.91],[1268.4,33.84],[1271.3,33.91],[1274.2,33.83],[1277.1,33.9],[1280.1,33.84],[1283,33.9],[1285.9,33.82],[1288.8,33.87],[1291.8,33.83],[1294.7,33.9],[1297.6,33.83],[1300.5,33.91],[1303.5,33.84],
  [1306.4,33.9],[1309.3,33.83],[1312.2,33.89],[1315.2,33.83],[1318.1,33.89],[1321,33.82],[1323.9,33.89],[1326.9,33.84],[1329.8,33.9],[1332.7,33.84],[1335.6,33.9],[1338.6,33.83],[1341.5,33.89],[1344.4,33.84],[1347.3,33.88],
  [1350.3,33.85],[1353.2,33.9],[1356.1,33.85],[1359,33.9],[1362,33.84],[1364.9,33.89],[1367.8,33.85],[1370.7,33.9],[1373.7,33.86],[1376.6,33.88],[1379.5,33.85],
  [1382.6,33.95],[1385.7,33.81],[1388.8,33.97],[1391.9,33.8],[1395,33.97],[1398.1,33.82],[1401.2,33.96],[1404.3,33.8],[1407.4,33.97],[1410.5,33.81],[1413.6,33.98],[1416.7,33.8],[1419.8,33.99],[1422.9,33.8],[1426,33.99],
  [1429.1,33.79],[1432.2,33.99],[1435.3,33.8],[1436.8,33.88],
];

const WIDTH = 3000;
const HEIGHT = 2160;
const LEFT = 220;
const RIGHT = 2967;
const FONT = "DejaVu Sans, Liberation Sans, sans-serif";

const panels = [
  { label: "Trans. Power [W]", color: "#000000", width: 2.8, data: transPower, yDomain: [1.4611, 1.5037], ticks: powerTicks, fmt: ".2f", top: 59.5, bottom: 526 },
  { label: "Trans. Temp [°C]", color: "#d62728", width: 3.2, data: transTemp, yDomain: [38.958, 39.1377], ticks: transTempTicks, fmt: ".2f", top: 556.3, bottom: 1023.6 },
  { label: "Rec. Temp [°C]", color: "#ff7f0e", width: 3.1, data: recTemp, yDomain: [36.837, 37.824], ticks: recTempTicks, fmt: ".1f", top: 1061.4, bottom: 1528.5 },
  { label: "PC Temp [°C]", color: "#1f77b4", width: 2.8, data: pcTemp, yDomain: [29.25, 34.418], ticks: pcTempTicks, fmt: "d", top: 1558.8, bottom: 2027 },
];

export default function App() {
  const svgRef = useRef<SVGSVGElement>(null);

  useEffect(() => {
    if (!svgRef.current) return;
    const svg = d3.select(svgRef.current);
    svg.selectAll("*").remove();

    const x = d3.scaleLinear().domain([0, 1440]).range([LEFT, RIGHT]);
    const majorX = hourLabels.map((_, i) => i * 60);
    const minorX = d3.range(0, 1441, 15).filter((m) => m % 60 !== 0);

    svg.append("rect").attr("width", WIDTH).attr("height", HEIGHT).attr("fill", "#ffffff");

    panels.forEach((p, i) => {
      const y = d3.scaleLinear().domain(p.yDomain).range([p.bottom, p.top]);
      const g = svg.append("g");
      const isLast = i === panels.length - 1;

      // Grid
      g.append("g")
        .selectAll("line")
        .data(majorX)
        .join("line")
        .attr("x1", (d) => x(d))
        .attr("x2", (d) => x(d))
        .attr("y1", p.top)
        .attr("y2", p.bottom)
        .attr("stroke", "#b0b0b0")
        .attr("stroke-width", 2.2);
      g.append("g")
        .selectAll("line")
        .data(p.ticks)
        .join("line")
        .attr("x1", LEFT)
        .attr("x2", RIGHT)
        .attr("y1", (d) => y(d))
        .attr("y2", (d) => y(d))
        .attr("stroke", "#b0b0b0")
        .attr("stroke-width", 2.2);

      // Data line
      const clipId = `clip-${i}`;
      svg
        .append("clipPath")
        .attr("id", clipId)
        .append("rect")
        .attr("x", LEFT)
        .attr("y", p.top)
        .attr("width", RIGHT - LEFT)
        .attr("height", p.bottom - p.top);

      const line = d3
        .line<Pt>()
        .x((d) => x(d[0]))
        .y((d) => y(d[1]));

      g.append("path")
        .datum(p.data)
        .attr("clip-path", `url(#${clipId})`)
        .attr("d", line)
        .attr("fill", "none")
        .attr("stroke", p.color)
        .attr("stroke-width", p.width)
        .attr("stroke-linejoin", "round");

      // Spines
      g.append("rect")
        .attr("x", LEFT)
        .attr("y", p.top)
        .attr("width", RIGHT - LEFT)
        .attr("height", p.bottom - p.top)
        .attr("fill", "none")
        .attr("stroke", "#262626")
        .attr("stroke-width", 3);

      // X axis (major + minor ticks)
      const xMajor = g
        .append("g")
        .attr("transform", `translate(0,${p.bottom})`)
        .call(
          d3
            .axisBottom(x)
            .tickValues(majorX)
            .tickSize(19)
            .tickPadding(13)
            .tickFormat((_, k) => (isLast ? hourLabels[k] : ""))
        );
      xMajor.select(".domain").remove();
      xMajor.selectAll(".tick line").attr("stroke", "#262626").attr("stroke-width", 3);
      xMajor
        .selectAll(".tick text")
        .attr("fill", "#000")
        .style("font-family", FONT)
        .style("font-size", "43.5px");

      const xMinor = g
        .append("g")
        .attr("transform", `translate(0,${p.bottom})`)
        .call(d3.axisBottom(x).tickValues(minorX).tickSize(10).tickFormat(() => ""));
      xMinor.select(".domain").remove();
      xMinor.selectAll(".tick line").attr("stroke", "#262626").attr("stroke-width", 2.4);

      // Y axis
      const yAxis = g
        .append("g")
        .attr("transform", `translate(${LEFT},0)`)
        .call(
          d3
            .axisLeft(y)
            .tickValues(p.ticks)
            .tickSize(18)
            .tickPadding(12)
            .tickFormat(d3.format(p.fmt) as (d: d3.NumberValue) => string)
        );
      yAxis.select(".domain").remove();
      yAxis.selectAll(".tick line").attr("stroke", "#262626").attr("stroke-width", 3);
      yAxis
        .selectAll(".tick text")
        .attr("fill", "#000")
        .style("font-family", FONT)
        .style("font-size", "43.5px");

      const bb = (yAxis.node() as SVGGElement).getBBox();
      const labelX = LEFT + bb.x - 21;
      const labelY = (p.top + p.bottom) / 2;
      g.append("text")
        .attr("x", labelX)
        .attr("y", labelY)
        .attr("transform", `rotate(-90, ${labelX}, ${labelY})`)
        .attr("text-anchor", "middle")
        .style("font-family", FONT)
        .style("font-size", "49px")
        .attr("fill", "#000")
        .text(p.label);
    });

    // Title
    svg
      .append("text")
      .attr("x", (LEFT + RIGHT) / 2)
      .attr("y", 49)
      .attr("text-anchor", "middle")
      .style("font-family", FONT)
      .style("font-size", "50px")
      .attr("fill", "#000")
      .text("W-band Housekeeping 2024-03-31");

    // X label
    svg
      .append("text")
      .attr("x", (LEFT + RIGHT) / 2)
      .attr("y", 2140)
      .attr("text-anchor", "middle")
      .style("font-family", FONT)
      .style("font-size", "49px")
      .attr("fill", "#000")
      .text("Time [UTC]");
  }, []);

  return (
    <svg
      ref={svgRef}
      width={WIDTH}
      height={HEIGHT}
      style={{ position: "absolute", left: 0, top: 0, display: "block" }}
    />
  );
}
